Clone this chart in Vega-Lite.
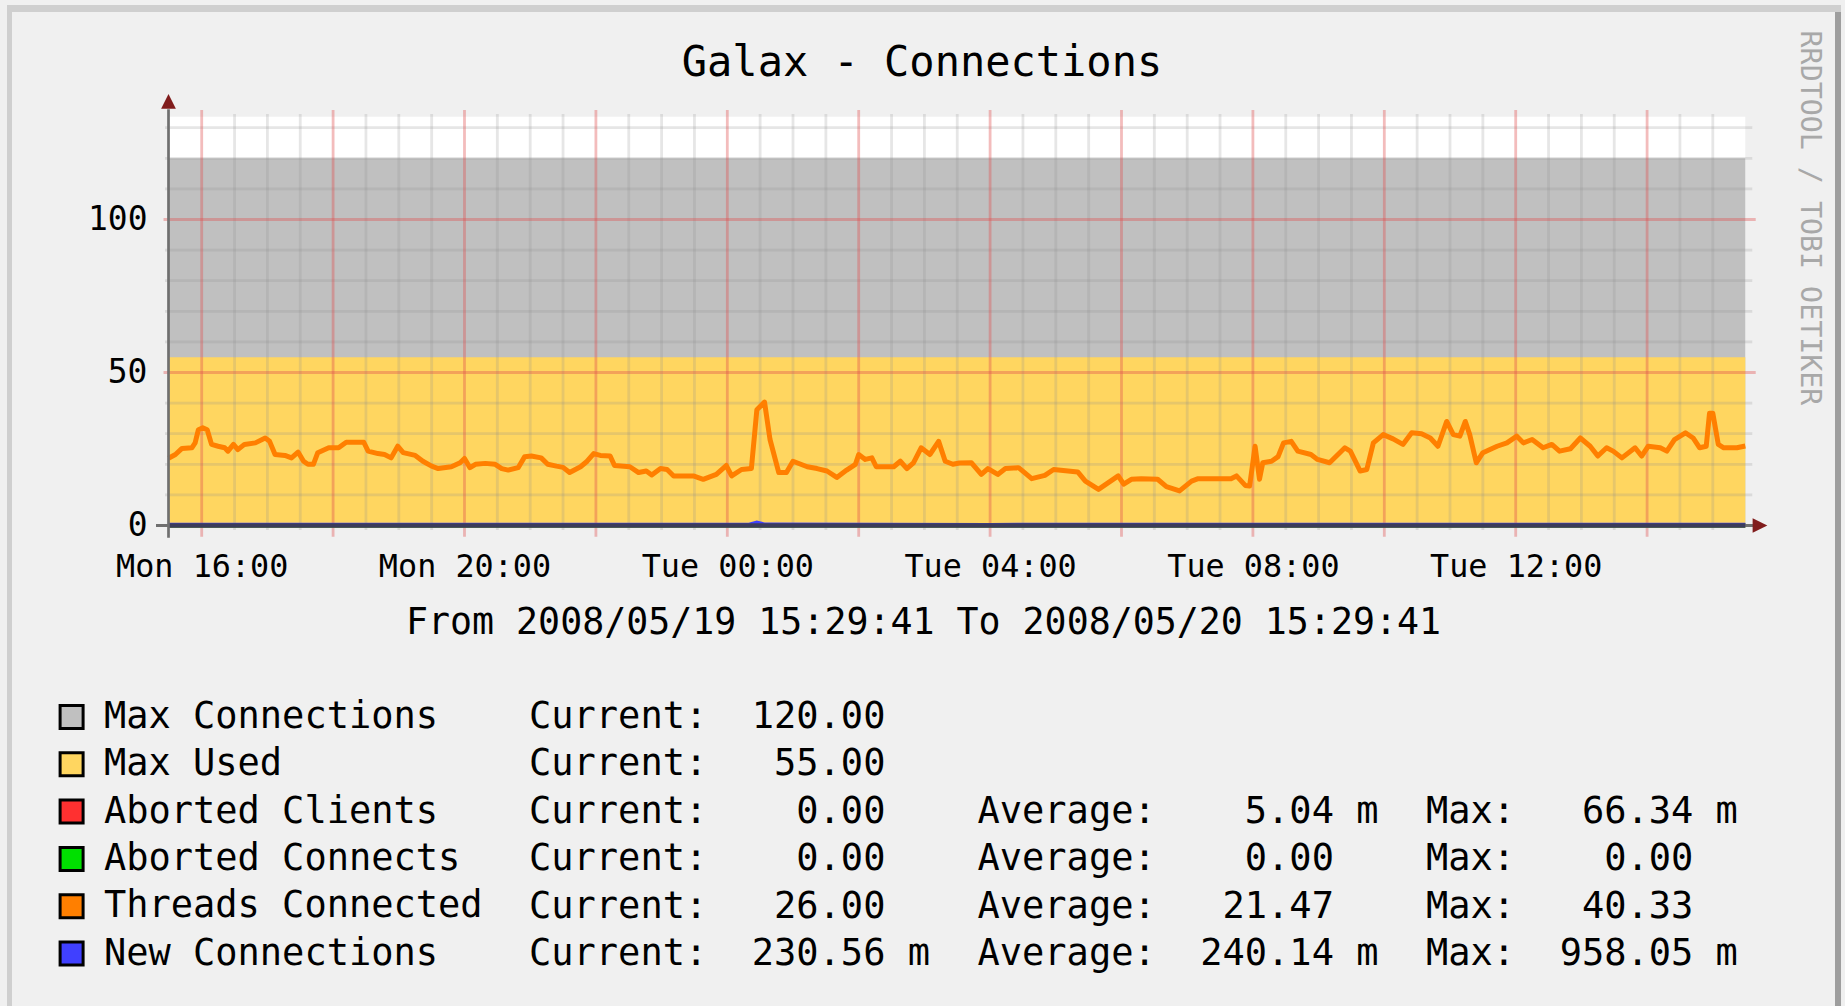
{
  "$schema": "https://vega.github.io/schema/vega-lite/v6.json",
  "width": 1630,
  "height": 450,
  "autosize": {"type": "none"},
  "padding": {"left": 150, "top": 90, "right": 65, "bottom": 466},
  "background": "#f0f0f0",
  "title": {"text": "Galax - Connections", "anchor": "middle", "frame": "group", "dx": -43, "offset": 0, "dy": 100.5, "baseline": "middle", "font": "DejaVu Sans Mono", "fontSize": 42, "fontWeight": "normal", "color": "#000000"},
  "config": {
    "view": {"stroke": null},
    "font": "DejaVu Sans Mono",
    "axis": {"grid": false, "ticks": false, "tickSize": 0, "domain": false, "labelFont": "DejaVu Sans Mono", "labelFontSize": 33, "labelColor": "#000000", "titleFont": "DejaVu Sans Mono", "titleColor": "#000000", "titleFontWeight": "normal"},
    "legend": {"labelFont": "DejaVu Sans Mono", "labelFontSize": 37, "labelColor": "#000000", "labelLimit": 0, "padding": 0, "symbolType": "square", "symbolSize": 529, "symbolStrokeWidth": 3, "symbolStrokeColor": "#000000", "symbolOpacity": 1, "labelOffset": 13.8, "rowPadding": 9.3}
  },
  "datasets": {
    "limits": [
      {"series": "Max Connections", "value": 120},
      {"series": "Max Used", "value": 55}
    ],
    "vgrid": [
      {"t": "2008-05-19T16:00:00", "kind": "major"}, {"t": "2008-05-19T16:30:00", "kind": "minor"}, {"t": "2008-05-19T17:00:00", "kind": "minor"}, {"t": "2008-05-19T17:30:00", "kind": "minor"},
      {"t": "2008-05-19T18:00:00", "kind": "major"}, {"t": "2008-05-19T18:30:00", "kind": "minor"}, {"t": "2008-05-19T19:00:00", "kind": "minor"}, {"t": "2008-05-19T19:30:00", "kind": "minor"},
      {"t": "2008-05-19T20:00:00", "kind": "major"}, {"t": "2008-05-19T20:30:00", "kind": "minor"}, {"t": "2008-05-19T21:00:00", "kind": "minor"}, {"t": "2008-05-19T21:30:00", "kind": "minor"},
      {"t": "2008-05-19T22:00:00", "kind": "major"}, {"t": "2008-05-19T22:30:00", "kind": "minor"}, {"t": "2008-05-19T23:00:00", "kind": "minor"}, {"t": "2008-05-19T23:30:00", "kind": "minor"},
      {"t": "2008-05-20T00:00:00", "kind": "major"}, {"t": "2008-05-20T00:30:00", "kind": "minor"}, {"t": "2008-05-20T01:00:00", "kind": "minor"}, {"t": "2008-05-20T01:30:00", "kind": "minor"},
      {"t": "2008-05-20T02:00:00", "kind": "major"}, {"t": "2008-05-20T02:30:00", "kind": "minor"}, {"t": "2008-05-20T03:00:00", "kind": "minor"}, {"t": "2008-05-20T03:30:00", "kind": "minor"},
      {"t": "2008-05-20T04:00:00", "kind": "major"}, {"t": "2008-05-20T04:30:00", "kind": "minor"}, {"t": "2008-05-20T05:00:00", "kind": "minor"}, {"t": "2008-05-20T05:30:00", "kind": "minor"},
      {"t": "2008-05-20T06:00:00", "kind": "major"}, {"t": "2008-05-20T06:30:00", "kind": "minor"}, {"t": "2008-05-20T07:00:00", "kind": "minor"}, {"t": "2008-05-20T07:30:00", "kind": "minor"},
      {"t": "2008-05-20T08:00:00", "kind": "major"}, {"t": "2008-05-20T08:30:00", "kind": "minor"}, {"t": "2008-05-20T09:00:00", "kind": "minor"}, {"t": "2008-05-20T09:30:00", "kind": "minor"},
      {"t": "2008-05-20T10:00:00", "kind": "major"}, {"t": "2008-05-20T10:30:00", "kind": "minor"}, {"t": "2008-05-20T11:00:00", "kind": "minor"}, {"t": "2008-05-20T11:30:00", "kind": "minor"},
      {"t": "2008-05-20T12:00:00", "kind": "major"}, {"t": "2008-05-20T12:30:00", "kind": "minor"}, {"t": "2008-05-20T13:00:00", "kind": "minor"}, {"t": "2008-05-20T13:30:00", "kind": "minor"},
      {"t": "2008-05-20T14:00:00", "kind": "major"}, {"t": "2008-05-20T14:30:00", "kind": "minor"}, {"t": "2008-05-20T15:00:00", "kind": "minor"}
    ],
    "hgrid": [
      {"v": 10, "kind": "minor"}, {"v": 20, "kind": "minor"}, {"v": 30, "kind": "minor"}, {"v": 40, "kind": "minor"},
      {"v": 50, "kind": "major"}, {"v": 60, "kind": "minor"}, {"v": 70, "kind": "minor"}, {"v": 80, "kind": "minor"},
      {"v": 90, "kind": "minor"}, {"v": 100, "kind": "major"}, {"v": 110, "kind": "minor"}, {"v": 120, "kind": "minor"}, {"v": 130, "kind": "minor"}
    ],
    "small": [
      {"series": "Aborted Clients", "t": "2008-05-19T15:29:41", "v": 0},
      {"series": "Aborted Clients", "t": "2008-05-19T22:10:00", "v": 0},
      {"series": "Aborted Clients", "t": "2008-05-19T22:15:00", "v": 0.066},
      {"series": "Aborted Clients", "t": "2008-05-19T22:20:00", "v": 0},
      {"series": "Aborted Clients", "t": "2008-05-20T15:29:41", "v": 0},
      {"series": "Aborted Connects", "t": "2008-05-19T15:29:41", "v": 0},
      {"series": "Aborted Connects", "t": "2008-05-20T15:29:41", "v": 0},
      {"series": "New Connections", "t": "2008-05-19T15:29:41", "v": 0.22},
      {"series": "New Connections", "t": "2008-05-19T18:00:00", "v": 0.25},
      {"series": "New Connections", "t": "2008-05-19T21:00:00", "v": 0.21},
      {"series": "New Connections", "t": "2008-05-20T00:20:00", "v": 0.24},
      {"series": "New Connections", "t": "2008-05-20T00:27:00", "v": 0.958},
      {"series": "New Connections", "t": "2008-05-20T00:34:00", "v": 0.3},
      {"series": "New Connections", "t": "2008-05-20T04:00:00", "v": 0.2},
      {"series": "New Connections", "t": "2008-05-20T08:00:00", "v": 0.26},
      {"series": "New Connections", "t": "2008-05-20T12:00:00", "v": 0.25},
      {"series": "New Connections", "t": "2008-05-20T15:29:41", "v": 0.23}
    ],
    "threads": [
      {"t": "2008-05-19T15:29:41", "v": 22.0}, {"t": "2008-05-19T15:36:00", "v": 23.2}, {"t": "2008-05-19T15:42:00", "v": 25.2}, {"t": "2008-05-19T15:51:00", "v": 25.4},
      {"t": "2008-05-19T15:54:00", "v": 27.0}, {"t": "2008-05-19T15:57:00", "v": 31.3}, {"t": "2008-05-19T16:01:00", "v": 31.9}, {"t": "2008-05-19T16:05:00", "v": 31.3},
      {"t": "2008-05-19T16:09:00", "v": 26.5}, {"t": "2008-05-19T16:15:00", "v": 25.9}, {"t": "2008-05-19T16:21:00", "v": 25.4}, {"t": "2008-05-19T16:24:00", "v": 24.3},
      {"t": "2008-05-19T16:29:00", "v": 26.5}, {"t": "2008-05-19T16:33:00", "v": 24.8}, {"t": "2008-05-19T16:39:00", "v": 26.5}, {"t": "2008-05-19T16:49:00", "v": 27.0},
      {"t": "2008-05-19T16:58:00", "v": 28.6}, {"t": "2008-05-19T17:02:00", "v": 27.5}, {"t": "2008-05-19T17:07:00", "v": 23.2}, {"t": "2008-05-19T17:16:00", "v": 22.9},
      {"t": "2008-05-19T17:22:00", "v": 22.1}, {"t": "2008-05-19T17:28:00", "v": 24.0}, {"t": "2008-05-19T17:33:00", "v": 21.0}, {"t": "2008-05-19T17:37:00", "v": 20.0},
      {"t": "2008-05-19T17:42:00", "v": 20.0}, {"t": "2008-05-19T17:46:00", "v": 23.8}, {"t": "2008-05-19T17:56:00", "v": 25.4}, {"t": "2008-05-19T18:05:00", "v": 25.4},
      {"t": "2008-05-19T18:12:00", "v": 27.2}, {"t": "2008-05-19T18:28:00", "v": 27.2}, {"t": "2008-05-19T18:32:00", "v": 24.3}, {"t": "2008-05-19T18:41:00", "v": 23.5},
      {"t": "2008-05-19T18:47:00", "v": 23.2}, {"t": "2008-05-19T18:53:00", "v": 22.1}, {"t": "2008-05-19T18:59:00", "v": 25.9}, {"t": "2008-05-19T19:04:00", "v": 23.8},
      {"t": "2008-05-19T19:15:00", "v": 22.9}, {"t": "2008-05-19T19:22:00", "v": 21.0}, {"t": "2008-05-19T19:30:00", "v": 19.4}, {"t": "2008-05-19T19:36:00", "v": 18.6},
      {"t": "2008-05-19T19:48:00", "v": 19.2}, {"t": "2008-05-19T19:56:00", "v": 20.5}, {"t": "2008-05-19T20:00:00", "v": 21.9}, {"t": "2008-05-19T20:05:00", "v": 18.9},
      {"t": "2008-05-19T20:10:00", "v": 20.0}, {"t": "2008-05-19T20:19:00", "v": 20.3}, {"t": "2008-05-19T20:28:00", "v": 20.0}, {"t": "2008-05-19T20:34:00", "v": 18.6},
      {"t": "2008-05-19T20:40:00", "v": 18.1}, {"t": "2008-05-19T20:49:00", "v": 18.9}, {"t": "2008-05-19T20:55:00", "v": 22.5}, {"t": "2008-05-19T21:01:00", "v": 22.7},
      {"t": "2008-05-19T21:10:00", "v": 22.1}, {"t": "2008-05-19T21:16:00", "v": 20.0}, {"t": "2008-05-19T21:24:00", "v": 19.4}, {"t": "2008-05-19T21:30:00", "v": 19.0},
      {"t": "2008-05-19T21:36:00", "v": 17.3}, {"t": "2008-05-19T21:46:00", "v": 19.2}, {"t": "2008-05-19T21:52:00", "v": 21.0}, {"t": "2008-05-19T21:58:00", "v": 23.5},
      {"t": "2008-05-19T22:04:00", "v": 22.9}, {"t": "2008-05-19T22:13:00", "v": 22.7}, {"t": "2008-05-19T22:17:00", "v": 19.6}, {"t": "2008-05-19T22:31:00", "v": 19.2},
      {"t": "2008-05-19T22:39:00", "v": 17.3}, {"t": "2008-05-19T22:46:00", "v": 17.8}, {"t": "2008-05-19T22:51:00", "v": 16.5}, {"t": "2008-05-19T22:59:00", "v": 18.6},
      {"t": "2008-05-19T23:05:00", "v": 18.3}, {"t": "2008-05-19T23:11:00", "v": 16.2}, {"t": "2008-05-19T23:29:00", "v": 16.2}, {"t": "2008-05-19T23:38:00", "v": 15.1},
      {"t": "2008-05-19T23:50:00", "v": 16.7}, {"t": "2008-05-19T23:59:00", "v": 19.6}, {"t": "2008-05-20T00:04:00", "v": 16.2}, {"t": "2008-05-20T00:13:00", "v": 18.3},
      {"t": "2008-05-20T00:22:00", "v": 18.6}, {"t": "2008-05-20T00:27:00", "v": 37.8}, {"t": "2008-05-20T00:34:00", "v": 40.33}, {"t": "2008-05-20T00:39:00", "v": 28.1},
      {"t": "2008-05-20T00:47:00", "v": 17.3}, {"t": "2008-05-20T00:54:00", "v": 17.3}, {"t": "2008-05-20T01:00:00", "v": 21.0}, {"t": "2008-05-20T01:13:00", "v": 19.2},
      {"t": "2008-05-20T01:22:00", "v": 18.6}, {"t": "2008-05-20T01:31:00", "v": 17.8}, {"t": "2008-05-20T01:40:00", "v": 15.7}, {"t": "2008-05-20T01:49:00", "v": 18.1},
      {"t": "2008-05-20T01:57:00", "v": 20.0}, {"t": "2008-05-20T02:00:00", "v": 23.2}, {"t": "2008-05-20T02:06:00", "v": 21.6}, {"t": "2008-05-20T02:12:00", "v": 22.1},
      {"t": "2008-05-20T02:16:00", "v": 19.2}, {"t": "2008-05-20T02:32:00", "v": 19.2}, {"t": "2008-05-20T02:38:00", "v": 21.0}, {"t": "2008-05-20T02:44:00", "v": 18.6},
      {"t": "2008-05-20T02:50:00", "v": 20.5}, {"t": "2008-05-20T02:57:00", "v": 25.4}, {"t": "2008-05-20T03:05:00", "v": 23.2}, {"t": "2008-05-20T03:13:00", "v": 27.5},
      {"t": "2008-05-20T03:19:00", "v": 21.0}, {"t": "2008-05-20T03:26:00", "v": 20.0}, {"t": "2008-05-20T03:32:00", "v": 20.4}, {"t": "2008-05-20T03:43:00", "v": 20.5},
      {"t": "2008-05-20T03:52:00", "v": 16.7}, {"t": "2008-05-20T03:58:00", "v": 18.6}, {"t": "2008-05-20T04:07:00", "v": 16.7}, {"t": "2008-05-20T04:14:00", "v": 18.6},
      {"t": "2008-05-20T04:26:00", "v": 18.9}, {"t": "2008-05-20T04:38:00", "v": 15.3}, {"t": "2008-05-20T04:50:00", "v": 16.4}, {"t": "2008-05-20T04:58:00", "v": 18.3},
      {"t": "2008-05-20T05:20:00", "v": 17.5}, {"t": "2008-05-20T05:27:00", "v": 14.5}, {"t": "2008-05-20T05:39:00", "v": 11.8}, {"t": "2008-05-20T05:48:00", "v": 14.0},
      {"t": "2008-05-20T05:57:00", "v": 16.2}, {"t": "2008-05-20T06:02:00", "v": 13.5}, {"t": "2008-05-20T06:09:00", "v": 15.1}, {"t": "2008-05-20T06:18:00", "v": 15.3},
      {"t": "2008-05-20T06:33:00", "v": 15.1}, {"t": "2008-05-20T06:41:00", "v": 12.7}, {"t": "2008-05-20T06:53:00", "v": 11.3}, {"t": "2008-05-20T07:04:00", "v": 14.5},
      {"t": "2008-05-20T07:10:00", "v": 15.3}, {"t": "2008-05-20T07:40:00", "v": 15.3}, {"t": "2008-05-20T07:45:00", "v": 16.2}, {"t": "2008-05-20T07:53:00", "v": 13.1},
      {"t": "2008-05-20T07:57:00", "v": 12.9}, {"t": "2008-05-20T08:02:00", "v": 25.9}, {"t": "2008-05-20T08:06:00", "v": 15.1}, {"t": "2008-05-20T08:09:00", "v": 20.5},
      {"t": "2008-05-20T08:17:00", "v": 21.0}, {"t": "2008-05-20T08:23:00", "v": 22.5}, {"t": "2008-05-20T08:28:00", "v": 27.0}, {"t": "2008-05-20T08:35:00", "v": 27.5},
      {"t": "2008-05-20T08:41:00", "v": 24.3}, {"t": "2008-05-20T08:53:00", "v": 23.2}, {"t": "2008-05-20T08:59:00", "v": 21.6}, {"t": "2008-05-20T09:10:00", "v": 20.5},
      {"t": "2008-05-20T09:24:00", "v": 25.4}, {"t": "2008-05-20T09:29:00", "v": 24.3}, {"t": "2008-05-20T09:38:00", "v": 17.8}, {"t": "2008-05-20T09:44:00", "v": 18.3},
      {"t": "2008-05-20T09:50:00", "v": 27.0}, {"t": "2008-05-20T09:59:00", "v": 29.7}, {"t": "2008-05-20T10:08:00", "v": 28.3}, {"t": "2008-05-20T10:17:00", "v": 26.5},
      {"t": "2008-05-20T10:25:00", "v": 30.3}, {"t": "2008-05-20T10:34:00", "v": 30.0}, {"t": "2008-05-20T10:42:00", "v": 28.6}, {"t": "2008-05-20T10:49:00", "v": 25.9},
      {"t": "2008-05-20T10:57:00", "v": 34.0}, {"t": "2008-05-20T11:03:00", "v": 29.7}, {"t": "2008-05-20T11:09:00", "v": 29.2}, {"t": "2008-05-20T11:14:00", "v": 34.0},
      {"t": "2008-05-20T11:18:00", "v": 29.7}, {"t": "2008-05-20T11:24:00", "v": 20.5}, {"t": "2008-05-20T11:30:00", "v": 23.8}, {"t": "2008-05-20T11:43:00", "v": 25.9},
      {"t": "2008-05-20T11:52:00", "v": 27.0}, {"t": "2008-05-20T12:01:00", "v": 29.2}, {"t": "2008-05-20T12:07:00", "v": 27.0}, {"t": "2008-05-20T12:15:00", "v": 28.1},
      {"t": "2008-05-20T12:25:00", "v": 25.4}, {"t": "2008-05-20T12:33:00", "v": 26.5}, {"t": "2008-05-20T12:40:00", "v": 24.3}, {"t": "2008-05-20T12:50:00", "v": 25.1},
      {"t": "2008-05-20T12:59:00", "v": 28.6}, {"t": "2008-05-20T13:08:00", "v": 25.9}, {"t": "2008-05-20T13:15:00", "v": 22.7}, {"t": "2008-05-20T13:23:00", "v": 25.4},
      {"t": "2008-05-20T13:29:00", "v": 24.3}, {"t": "2008-05-20T13:37:00", "v": 22.1}, {"t": "2008-05-20T13:49:00", "v": 25.4}, {"t": "2008-05-20T13:55:00", "v": 22.7},
      {"t": "2008-05-20T14:01:00", "v": 25.9}, {"t": "2008-05-20T14:12:00", "v": 25.4}, {"t": "2008-05-20T14:18:00", "v": 24.3}, {"t": "2008-05-20T14:25:00", "v": 28.1},
      {"t": "2008-05-20T14:35:00", "v": 30.3}, {"t": "2008-05-20T14:42:00", "v": 28.6}, {"t": "2008-05-20T14:48:00", "v": 25.4}, {"t": "2008-05-20T14:54:00", "v": 25.9},
      {"t": "2008-05-20T14:57:00", "v": 36.7}, {"t": "2008-05-20T15:00:00", "v": 36.7}, {"t": "2008-05-20T15:05:00", "v": 26.5}, {"t": "2008-05-20T15:10:00", "v": 25.4},
      {"t": "2008-05-20T15:22:00", "v": 25.4}, {"t": "2008-05-20T15:29:41", "v": 26.0}
    ],
    "stats": [
      {"series": "Max Connections", "stat": "Current", "value": 120},
      {"series": "Max Used", "stat": "Current", "value": 55},
      {"series": "Aborted Clients", "stat": "Current", "value": 0},
      {"series": "Aborted Clients", "stat": "Average", "value": 0.00504},
      {"series": "Aborted Clients", "stat": "Max", "value": 0.06634},
      {"series": "Aborted Connects", "stat": "Current", "value": 0},
      {"series": "Aborted Connects", "stat": "Average", "value": 0},
      {"series": "Aborted Connects", "stat": "Max", "value": 0},
      {"series": "Threads Connected", "stat": "Current", "value": 26},
      {"series": "Threads Connected", "stat": "Average", "value": 21.47},
      {"series": "Threads Connected", "stat": "Max", "value": 40.33},
      {"series": "New Connections", "stat": "Current", "value": 0.23056},
      {"series": "New Connections", "stat": "Average", "value": 0.24014},
      {"series": "New Connections", "stat": "Max", "value": 0.95805}
    ]
  },
  "layer": [
    {
      "layer": [
        {
          "data": {"values": [{}]},
          "mark": {"type": "rect", "color": "#cfcfcf"},
          "encoding": {
            "x": {"datum": {"year": 2008, "month": 5, "date": 19, "hours": 13, "minutes": 2, "seconds": 12}, "type": "temporal"},
            "x2": {"datum": {"year": 2008, "month": 5, "date": 20, "hours": 16, "minutes": 57, "seconds": 5}},
            "y": {"datum": 170.1, "type": "quantitative"},
            "y2": {"datum": 167.8}
          }
        },
        {
          "data": {"values": [{}]},
          "mark": {"type": "rect", "color": "#cfcfcf"},
          "encoding": {
            "x": {"datum": {"year": 2008, "month": 5, "date": 19, "hours": 13, "minutes": 2, "seconds": 12}, "type": "temporal"},
            "x2": {"datum": {"year": 2008, "month": 5, "date": 19, "hours": 13, "minutes": 6, "seconds": 46}},
            "y": {"datum": 170.1, "type": "quantitative"},
            "y2": {"datum": -157.2}
          }
        },
        {
          "data": {"values": [{}]},
          "mark": {"type": "rect", "color": "#9e9e9e"},
          "encoding": {
            "x": {"datum": {"year": 2008, "month": 5, "date": 20, "hours": 16, "minutes": 51, "seconds": 36}, "type": "temporal"},
            "x2": {"datum": {"year": 2008, "month": 5, "date": 20, "hours": 16, "minutes": 57, "seconds": 5}},
            "y": {"datum": 167.8, "type": "quantitative"},
            "y2": {"datum": -157.2}
          }
        },
        {
          "data": {"values": [{}]},
          "mark": {"type": "rect", "color": "#ffffff"},
          "encoding": {
            "x": {"datum": {"year": 2008, "month": 5, "date": 19, "hours": 15, "minutes": 29, "seconds": 41}, "type": "temporal"},
            "x2": {"datum": {"year": 2008, "month": 5, "date": 20, "hours": 15, "minutes": 29, "seconds": 41}},
            "y": {"datum": 133.6, "type": "quantitative"},
            "y2": {"datum": 0}
          }
        },
        {
          "data": {"name": "limits"},
          "mark": {"type": "rect", "opacity": 1},
          "encoding": {
            "x": {"datum": {"year": 2008, "month": 5, "date": 19, "hours": 15, "minutes": 29, "seconds": 41}, "type": "temporal"},
            "x2": {"datum": {"year": 2008, "month": 5, "date": 20, "hours": 15, "minutes": 29, "seconds": 41}},
            "y": {"field": "value", "type": "quantitative"},
            "y2": {"datum": 0},
            "color": {
              "field": "series",
              "type": "nominal",
              "scale": {
                "domain": ["Max Connections", "Max Used", "Aborted Clients", "Aborted Connects", "Threads Connected", "New Connections"],
                "range": ["#c0c0c0", "#ffd660", "#ff3030", "#00e000", "#ff7f00", "#4040ff"]
              },
              "legend": {
                "title": null, "orient": "none", "legendX": -96.9, "legendY": 608.5, "direction": "vertical",
                "symbolType": "square", "symbolStrokeColor": "#000000", "symbolStrokeWidth": 3
              }
            }
          }
        },
        {
          "data": {"name": "vgrid"},
          "transform": [{"filter": "datum.kind == 'minor'"}],
          "mark": {"type": "rule", "color": "#8f8f8f", "opacity": 0.22, "strokeWidth": 2.8},
          "encoding": {
            "x": {"field": "t", "type": "temporal"},
            "y": {"datum": 134.5, "type": "quantitative"},
            "y2": {"datum": -1.5}
          }
        },
        {
          "data": {"name": "hgrid"},
          "transform": [{"filter": "datum.kind == 'minor'"}],
          "mark": {"type": "rule", "color": "#8f8f8f", "opacity": 0.22, "strokeWidth": 2.8},
          "encoding": {
            "y": {"field": "v", "type": "quantitative"},
            "x": {"datum": {"year": 2008, "month": 5, "date": 19, "hours": 15, "minutes": 26, "seconds": 29}, "type": "temporal"},
            "x2": {"datum": {"year": 2008, "month": 5, "date": 20, "hours": 15, "minutes": 36, "seconds": 4}}
          }
        },
        {
          "data": {"name": "vgrid"},
          "transform": [{"filter": "datum.kind == 'major'"}],
          "mark": {"type": "rule", "color": "#e05050", "opacity": 0.38, "strokeWidth": 2.8},
          "encoding": {
            "x": {"field": "t", "type": "temporal"},
            "y": {"datum": 135.8, "type": "quantitative"},
            "y2": {"datum": -3.66}
          }
        },
        {
          "data": {"name": "hgrid"},
          "transform": [{"filter": "datum.kind == 'major'"}],
          "mark": {"type": "rule", "color": "#e05050", "opacity": 0.38, "strokeWidth": 2.8},
          "encoding": {
            "y": {"field": "v", "type": "quantitative"},
            "x": {"datum": {"year": 2008, "month": 5, "date": 19, "hours": 15, "minutes": 25, "seconds": 7}, "type": "temporal"},
            "x2": {"datum": {"year": 2008, "month": 5, "date": 20, "hours": 15, "minutes": 39, "seconds": 11}}
          }
        },
        {
          "data": {"name": "small"},
          "mark": {"type": "line", "strokeWidth": 4, "interpolate": "linear"},
          "encoding": {
            "x": {"field": "t", "type": "temporal"},
            "y": {"field": "v", "type": "quantitative"},
            "stroke": {
              "field": "series", "type": "nominal",
              "scale": {"domain": ["Aborted Clients", "Aborted Connects", "New Connections"], "range": ["#ff3030", "#00e000", "#4040ff"]},
              "legend": null
            }
          }
        },
        {
          "data": {"name": "threads"},
          "mark": {"type": "line", "strokeWidth": 5, "interpolate": "linear", "strokeJoin": "round", "color": "#ff7f00"},
          "encoding": {
            "x": {
              "field": "t",
              "type": "temporal",
              "scale": {
                "domain": [
                  {"year": 2008, "month": 5, "date": 19, "hours": 15, "minutes": 12, "seconds": 47},
                  {"year": 2008, "month": 5, "date": 20, "hours": 16, "minutes": 1, "seconds": 22}
                ]
              },
              "axis": {
                "title": "From 2008/05/19 15:29:41 To 2008/05/20 15:29:41",
                "values": [
                  {"year": 2008, "month": 5, "date": 19, "hours": 16},
                  {"year": 2008, "month": 5, "date": 19, "hours": 20},
                  {"year": 2008, "month": 5, "date": 20, "hours": 0},
                  {"year": 2008, "month": 5, "date": 20, "hours": 4},
                  {"year": 2008, "month": 5, "date": 20, "hours": 8},
                  {"year": 2008, "month": 5, "date": 20, "hours": 12}
                ],
                "format": "%a %H:%M",
                "labelFontSize": 31.8,
                "labelPadding": 26,
                "labelBaseline": "middle",
                "labelFlush": false,
                "labelOverlap": false,
                "titleFontSize": 36.6,
                "titleX": 773,
                "titleY": 82,
                "titleAlign": "center",
                "titleBaseline": "middle",
                "titleAnchor": "start"
              }
            },
            "y": {
              "field": "v",
              "type": "quantitative",
              "scale": {"domain": [-4.74, 142.32], "nice": false, "zero": false},
              "axis": {"title": null, "values": [0, 50, 100], "labelFontSize": 33, "labelPadding": 3}
            }
          }
        },
        {
          "data": {"values": [{}]},
          "mark": {"type": "rule", "color": "#6f6f6f", "strokeWidth": 3},
          "encoding": {
            "x": {"datum": {"year": 2008, "month": 5, "date": 19, "hours": 15, "minutes": 18, "seconds": 16}, "type": "temporal"},
            "x2": {"datum": {"year": 2008, "month": 5, "date": 20, "hours": 15, "minutes": 36, "seconds": 59}},
            "y": {"datum": 0, "type": "quantitative"}
          }
        },
        {
          "data": {"values": [{}]},
          "mark": {"type": "rule", "color": "#3c3c5a", "strokeWidth": 4.3},
          "encoding": {
            "x": {"datum": {"year": 2008, "month": 5, "date": 19, "hours": 15, "minutes": 29, "seconds": 41}, "type": "temporal"},
            "x2": {"datum": {"year": 2008, "month": 5, "date": 20, "hours": 15, "minutes": 29, "seconds": 41}},
            "y": {"datum": 0, "type": "quantitative"}
          }
        },
        {
          "data": {"values": [{}]},
          "mark": {"type": "rule", "color": "#6f6f6f", "strokeWidth": 2.7},
          "encoding": {
            "x": {"datum": {"year": 2008, "month": 5, "date": 19, "hours": 15, "minutes": 29, "seconds": 41}, "type": "temporal"},
            "y": {"datum": 136, "type": "quantitative"},
            "y2": {"datum": -4}
          }
        },
        {
          "data": {"values": [{}]},
          "mark": {"type": "point", "shape": "M-1,1L0,-1L1,1Z", "filled": true, "size": 216, "color": "#801c1c", "opacity": 1},
          "encoding": {
            "x": {"datum": {"year": 2008, "month": 5, "date": 19, "hours": 15, "minutes": 29, "seconds": 41}, "type": "temporal"},
            "y": {"datum": 138.6, "type": "quantitative"}
          }
        },
        {
          "data": {"values": [{}]},
          "mark": {"type": "point", "shape": "M-1,-1L1,0L-1,1Z", "filled": true, "size": 216, "color": "#801c1c", "opacity": 1},
          "encoding": {
            "x": {"datum": {"year": 2008, "month": 5, "date": 20, "hours": 15, "minutes": 43, "seconds": 6}, "type": "temporal"},
            "y": {"datum": 0, "type": "quantitative"}
          }
        },
        {
          "data": {"values": [{"label": "RRDTOOL / TOBI OETIKER"}]},
          "mark": {"type": "text", "angle": 90, "align": "center", "baseline": "middle", "font": "DejaVu Sans Mono", "fontSize": 28.3, "color": "#a8a8a8"},
          "encoding": {
            "x": {"datum": {"year": 2008, "month": 5, "date": 20, "hours": 16, "minutes": 27, "seconds": 29}, "type": "temporal"},
            "y": {"datum": 100.5, "type": "quantitative"},
            "text": {"field": "label"}
          }
        }
      ]
    },
    {
      "data": {"name": "stats"},
      "mark": {
        "type": "text",
        "align": "left",
        "baseline": "middle",
        "font": "DejaVu Sans Mono",
        "fontSize": 37,
        "color": "#000000",
        "text": {"expr": "datum.stat + ':' + (datum.value > 0 && datum.value < 1 ? format(datum.value * 1000, '\u00a0>8.2f') + '\u00a0m' : format(datum.value, '\u00a0>8.2f'))"}
      },
      "encoding": {
        "x": {"field": "stat", "type": "nominal", "scale": {"type": "point", "domain": ["Current", "Average", "Max"], "range": [379, 1276], "padding": 0}, "axis": null},
        "y": {"field": "series", "type": "nominal", "scale": {"type": "point", "domain": ["Max Connections", "Max Used", "Aborted Clients", "Aborted Connects", "Threads Connected", "New Connections"], "range": [626.7, 864.3], "padding": 0}, "axis": null}
      }
    }
  ],
  "resolve": {"scale": {"x": "independent", "y": "independent"}}
}
